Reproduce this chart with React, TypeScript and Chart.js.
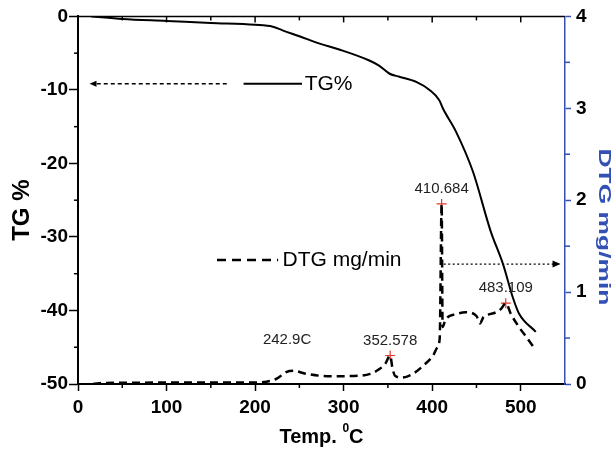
import React, { useEffect, useRef } from 'react';
import Chart, { ChartConfiguration, Plugin } from 'chart.js/auto';

// TG curve (weight %, left axis)
const tgTemp = [15, 50, 100, 150, 200, 220, 231, 250, 273, 295, 329, 340, 352, 363, 382, 397, 408, 412, 427, 446, 466, 480, 491, 498, 517];
const tgValue = [0, -0.35, -0.62, -0.9, -1.15, -1.4, -1.9, -2.7, -3.7, -4.5, -6.0, -6.7, -7.8, -8.2, -8.9, -10.0, -11.4, -12.5, -15.7, -21.1, -29.2, -33.7, -38.2, -40.4, -42.9];

// DTG curve (mg/min, right axis)
const dtgTemp = [17, 30, 100, 200, 213, 225, 235, 243, 256, 273, 290, 318, 330, 340, 347, 352.578, 355, 358, 366, 378, 390, 401, 406, 408.5, 410.684, 411.8, 415, 427, 438, 450, 454, 458, 465, 472, 478, 483.109, 489, 498, 508, 517];
const dtgValue = [0, 0.012, 0.015, 0.015, 0.025, 0.06, 0.13, 0.145, 0.115, 0.09, 0.085, 0.09, 0.11, 0.16, 0.22, 0.31, 0.18, 0.09, 0.07, 0.11, 0.2, 0.31, 0.4, 0.5, 1.96, 0.62, 0.7, 0.76, 0.78, 0.74, 0.66, 0.73, 0.76, 0.78, 0.82, 0.88, 0.76, 0.62, 0.49, 0.37];

// marked peaks
const peakTemp = [352.578, 410.684, 483.109];
const peakValue = [0.31, 1.96, 0.88];
const peakLabels = ['352.578', '410.684', '483.109'];
const shoulderTemp = 242.9;
const shoulderValue = 0.145;
const shoulderLabel = '242.9C';

const FONT = '"Liberation Sans", Arial, sans-serif';
const BLUE = '#3350b4';

const line = (ctx: CanvasRenderingContext2D, x1: number, y1: number, x2: number, y2: number) => {
  ctx.beginPath();
  ctx.moveTo(x1, y1);
  ctx.lineTo(x2, y2);
  ctx.stroke();
};

const decorPlugin: Plugin = {
  id: 'decor',
  afterDraw(chart) {
    const { ctx, chartArea: a, scales } = chart;
    const x = scales.x;
    const y = scales.y;
    const y2 = scales.y2;
    ctx.save();

    // top frame with inward ticks
    ctx.strokeStyle = '#000';
    ctx.lineWidth = 1.5;
    line(ctx, a.left, a.top, a.right, a.top);
    for (let t = 50; t < 550; t += 50) {
      const px = x.getPixelForValue(t);
      line(ctx, px, a.top, px, a.top + (t % 100 === 0 ? 6 : 4));
    }
    // minor ticks bottom / left
    for (let t = 50; t < 550; t += 100) {
      const px = x.getPixelForValue(t);
      line(ctx, px, a.bottom, px, a.bottom + 4);
    }
    for (let v = -45; v < 0; v += 10) {
      const py = y.getPixelForValue(v);
      line(ctx, a.left - 4, py, a.left, py);
    }
    ctx.strokeStyle = BLUE;
    for (let v = 0.5; v < 4; v += 1) {
      const py = y2.getPixelForValue(v);
      line(ctx, a.right, py, a.right + 5, py);
    }

    // legend: TG%
    const tgY = y.getPixelForValue(-9.15);
    ctx.strokeStyle = '#000';
    ctx.lineWidth = 2;
    line(ctx, x.getPixelForValue(187), tgY, x.getPixelForValue(253), tgY);
    ctx.fillStyle = '#000';
    ctx.font = `21px ${FONT}`;
    ctx.textBaseline = 'middle';
    ctx.textAlign = 'left';
    ctx.fillText('TG%', x.getPixelForValue(256), tgY + 1);
    ctx.lineWidth = 1.5;
    ctx.setLineDash([4, 3]);
    line(ctx, x.getPixelForValue(168), tgY, x.getPixelForValue(19), tgY);
    ctx.setLineDash([]);
    const tipL = x.getPixelForValue(13);
    ctx.beginPath();
    ctx.moveTo(tipL, tgY);
    ctx.lineTo(tipL + 7, tgY - 3);
    ctx.lineTo(tipL + 7, tgY + 3);
    ctx.closePath();
    ctx.fill();

    // legend: DTG
    const dY = y2.getPixelForValue(1.348);
    ctx.lineWidth = 2.5;
    ctx.setLineDash([9, 6]);
    line(ctx, x.getPixelForValue(157), dY, x.getPixelForValue(226), dY);
    ctx.setLineDash([]);
    ctx.fillText('DTG mg/min', x.getPixelForValue(231), dY);
    const aY = y2.getPixelForValue(1.305);
    ctx.lineWidth = 1.3;
    ctx.setLineDash([2, 2.5]);
    line(ctx, x.getPixelForValue(413), aY, x.getPixelForValue(537), aY);
    ctx.setLineDash([]);
    const tipR = x.getPixelForValue(545);
    ctx.beginPath();
    ctx.moveTo(tipR, aY);
    ctx.lineTo(tipR - 8, aY - 3.5);
    ctx.lineTo(tipR - 8, aY + 3.5);
    ctx.closePath();
    ctx.fill();

    // peak annotations
    ctx.font = `15px ${FONT}`;
    ctx.fillStyle = '#222';
    ctx.textAlign = 'center';
    peakLabels.forEach((lab, i) => {
      ctx.fillText(lab, x.getPixelForValue(peakTemp[i]), y2.getPixelForValue(peakValue[i]) - 15);
    });
    ctx.fillText(shoulderLabel, x.getPixelForValue(shoulderTemp) - 6, y2.getPixelForValue(shoulderValue) - 31);

    // axis titles
    ctx.fillStyle = '#000';
    ctx.font = `bold 24px ${FONT}`;
    ctx.save();
    ctx.translate(22, (a.top + a.bottom) / 2 + 10);
    ctx.rotate(-Math.PI / 2);
    ctx.fillText('TG %', 0, 0);
    ctx.restore();

    ctx.save();
    ctx.fillStyle = BLUE;
    ctx.font = `bold 17px ${FONT}`;
    const rt = 'DTG mg/min';
    const w = ctx.measureText(rt).width;
    ctx.translate(604, 227);
    ctx.rotate(Math.PI / 2);
    ctx.scale(157 / w, 1);
    ctx.fillText(rt, 0, 0);
    ctx.restore();

    // x title with superscript
    ctx.textAlign = 'left';
    ctx.textBaseline = 'alphabetic';
    ctx.font = `bold 20px ${FONT}`;
    const p1 = 'Temp. ';
    const w1 = ctx.measureText(p1).width;
    const wc = ctx.measureText('C').width;
    ctx.font = `bold 12px ${FONT}`;
    const ws = ctx.measureText('0').width;
    const total = w1 + ws + wc;
    const sx = (a.left + a.right) / 2 - total / 2;
    const by = 443;
    ctx.font = `bold 20px ${FONT}`;
    ctx.fillText(p1, sx, by);
    ctx.fillText('C', sx + w1 + ws, by);
    ctx.font = `bold 12px ${FONT}`;
    ctx.fillText('0', sx + w1, by - 11);

    ctx.restore();
  },
};

const App: React.FC = () => {
  const canvasRef = useRef<HTMLCanvasElement>(null);
  const chartInstance = useRef<Chart | null>(null);

  useEffect(() => {
    if (!canvasRef.current) return;
    const ctx = canvasRef.current.getContext('2d');
    if (!ctx) return;

    const tickFont = { family: FONT, size: 19, weight: 'bold' as const };

    const config: ChartConfiguration = {
      type: 'line',
      data: {
        datasets: [
          {
            label: 'TG%',
            data: tgTemp.map((t, i) => ({ x: t, y: tgValue[i] })),
            borderColor: '#000',
            borderWidth: 2,
            pointRadius: 0,
            cubicInterpolationMode: 'monotone',
            yAxisID: 'y',
          },
          {
            label: 'DTG mg/min',
            data: dtgTemp.map((t, i) => ({ x: t, y: dtgValue[i] })),
            borderColor: '#000',
            borderWidth: 2.5,
            borderDash: [8, 5],
            pointRadius: 0,
            cubicInterpolationMode: 'monotone',
            yAxisID: 'y2',
          },
          {
            label: 'peaks',
            data: peakTemp.map((t, i) => ({ x: t, y: peakValue[i] })),
            showLine: false,
            pointStyle: 'cross',
            pointRadius: 5,
            borderColor: '#e8342c',
            borderWidth: 1.2,
            yAxisID: 'y2',
          },
        ],
      },
      options: {
        animation: false,
        responsive: true,
        maintainAspectRatio: false,
        layout: { padding: { top: 14, left: 0, right: 0, bottom: 0 } },
        plugins: {
          legend: { display: false },
          tooltip: { enabled: false },
        },
        scales: {
          x: {
            type: 'linear',
            position: 'bottom',
            min: 0,
            max: 550,
            ticks: { stepSize: 100, includeBounds: false, color: '#000', font: tickFont, padding: 5 },
            grid: { drawOnChartArea: false, tickLength: 7, tickColor: '#000', tickWidth: 1.5 },
            border: { color: '#000', width: 2 },
            afterFit: (s) => { s.height = 71; },
          },
          y: {
            position: 'left',
            min: -50,
            max: 0,
            ticks: { stepSize: 10, color: '#000', font: tickFont, padding: 1 },
            grid: { drawOnChartArea: false, tickLength: 9, tickColor: '#000', tickWidth: 1.5 },
            border: { color: '#000', width: 2 },
            afterFit: (s) => { s.width = 78; },
          },
          y2: {
            position: 'right',
            min: 0,
            max: 4,
            ticks: { stepSize: 1, color: '#000', font: tickFont, padding: 5 },
            grid: { drawOnChartArea: false, tickLength: 6, tickColor: BLUE, tickWidth: 1.5 },
            border: { color: BLUE, width: 1.5 },
            afterFit: (s) => { s.width = 51; },
          },
        },
      },
      plugins: [decorPlugin],
    };

    chartInstance.current = new Chart(ctx, config);

    return () => {
      if (chartInstance.current) {
        chartInstance.current.destroy();
        chartInstance.current = null;
      }
    };
  }, []);

  return (
    <div style={{ position: 'fixed', left: 0, top: 0, width: 616, height: 455, background: '#fff' }}>
      <canvas ref={canvasRef} />
    </div>
  );
};

export default App;
